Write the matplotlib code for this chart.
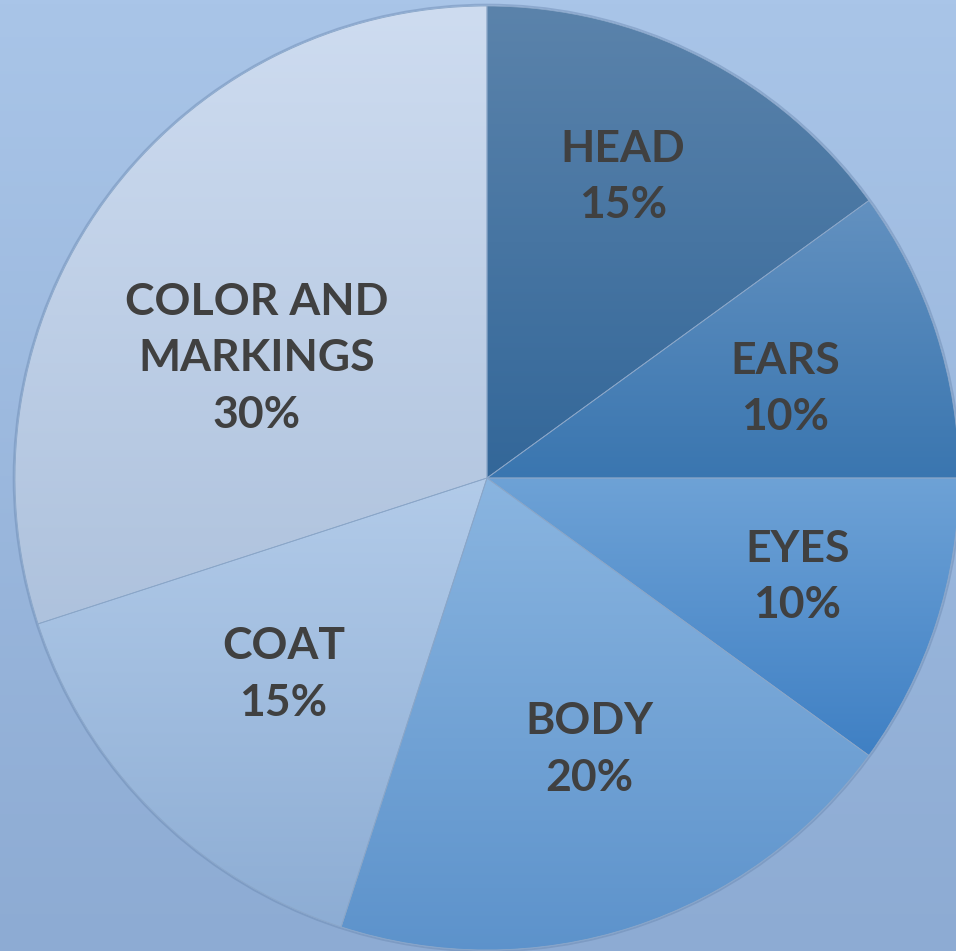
import numpy as np
import matplotlib
matplotlib.use('Agg')
import matplotlib.pyplot as plt
from matplotlib.colors import LinearSegmentedColormap

# Dados do grafico
labels = ['HEAD', 'EARS', 'EYES', 'BODY', 'COAT', 'COLOR AND\nMARKINGS']
values = [15, 10, 10, 20, 15, 30]
# gradiente de cada fatia (topo, base)
grad_top = ['#5b83ab', '#6391c0', '#6ea2d6', '#8ab5e0', '#b2cbe9', '#cedcf0']
grad_bot = ['#336799', '#3a76b0', '#3f80c4', '#5c92cb', '#8dadd4', '#aec2dd']
# posicao dos rotulos (raio relativo, angulo em graus)
label_pos = [(0.70, 65.7), (0.66, 16.6), (0.69, -17.7), (0.615, -69.4), (0.60, -136.0), (0.55, 152.5)]

W, H = 956, 951
cx, cy, R = 487, 478, 472

fig = plt.figure(figsize=(W / 100, H / 100), dpi=100)

# Fundo com gradiente
bg = fig.add_axes([0, 0, 1, 1])
bg_cmap = LinearSegmentedColormap.from_list('bg', ['#8dabd3', '#a9c5e8'])
bg.imshow(np.linspace(0, 1, 256).reshape(-1, 1), aspect='auto', cmap=bg_cmap,
          origin='lower', extent=[0, 1, 0, 1])
bg.axis('off')

ax = fig.add_axes([0, 0, 1, 1])
ax.patch.set_alpha(0)
wedges, _ = ax.pie(values, startangle=90, counterclock=False, radius=1,
                   wedgeprops=dict(linewidth=0.6, edgecolor='#8aa6c8'))
ax.set_aspect('equal')
ax.axis('off')

# sombra suave no contorno
ax.add_patch(plt.Circle((0, 0), 1.003, fill=False, edgecolor='#6a88b0', linewidth=1.3, alpha=0.45, zorder=0.5))

# Preenchendo fatias com gradiente vertical
for i, w in enumerate(wedges):
    verts = w.get_path().vertices
    x0, x1 = verts[:, 0].min(), verts[:, 0].max()
    y0, y1 = verts[:, 1].min(), verts[:, 1].max()
    cmap = LinearSegmentedColormap.from_list('g%d' % i, [grad_bot[i], grad_top[i]])
    im = ax.imshow(np.linspace(0, 1, 256).reshape(-1, 1), aspect='auto', cmap=cmap,
                   origin='lower', extent=[x0, x1, y0, y1], zorder=1)
    im.set_clip_path(w)
    w.set_facecolor('none')
    w.set_zorder(2)

ax.set_xlim(-cx / R, (W - cx) / R)
ax.set_ylim(-(H - cy) / R, cy / R)

# Rotulos
for i, lab in enumerate(labels):
    r, ang = label_pos[i]
    x = r * np.cos(np.radians(ang))
    y = r * np.sin(np.radians(ang))
    ax.text(x, y, lab + '\n' + str(values[i]) + '%', ha='center', va='center',
            fontsize=32, fontweight='bold', family='Lato', color='#404040',
            linespacing=1.5, zorder=5)

fig.savefig('out.png', dpi=100)
